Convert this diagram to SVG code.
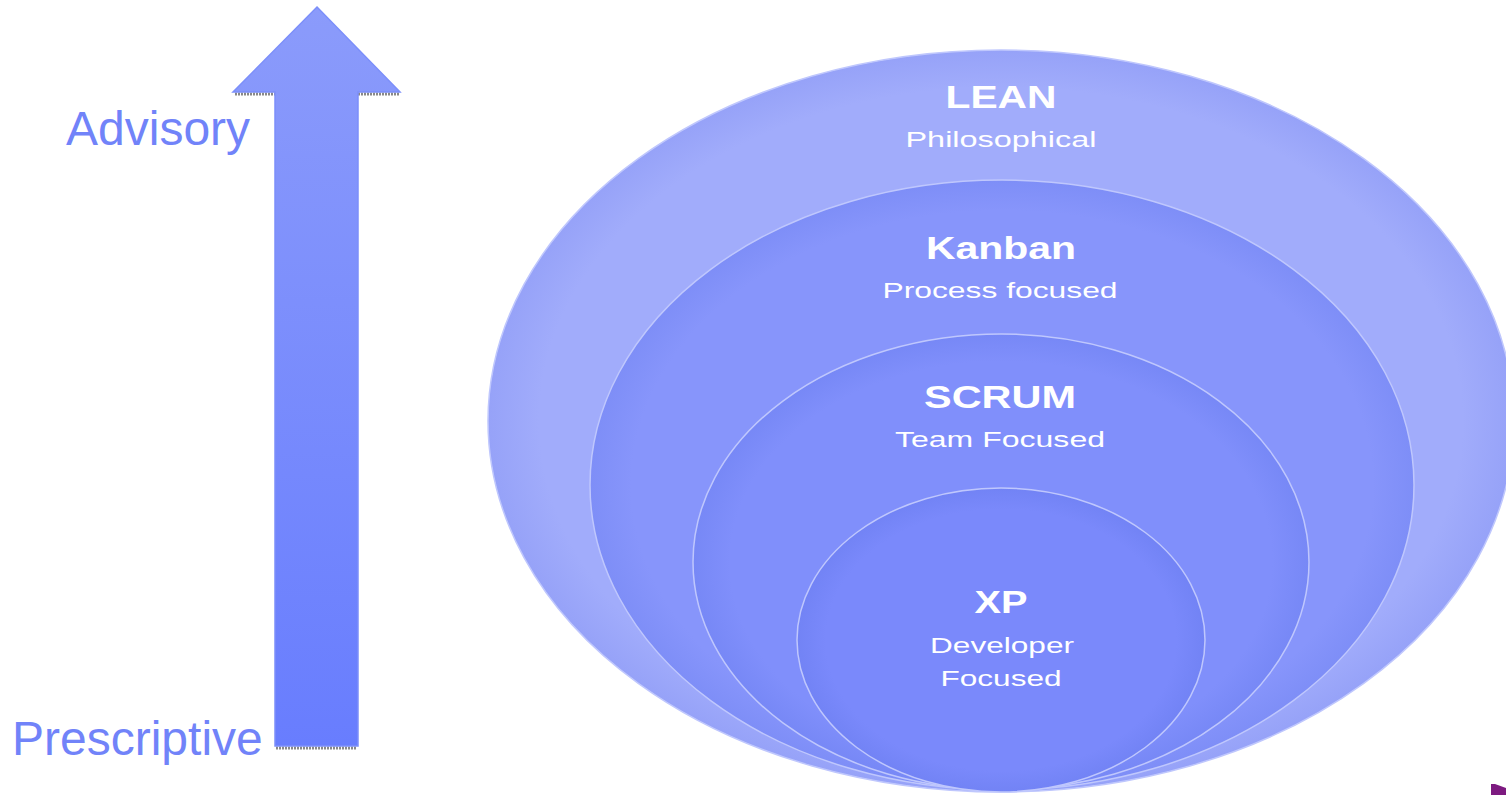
<svg xmlns="http://www.w3.org/2000/svg" width="1506" height="795" viewBox="0 0 1506 795">
<defs>
<linearGradient id="arrowGrad" x1="0" y1="0" x2="0" y2="1">
<stop offset="0" stop-color="#8b9bfb"/>
<stop offset="1" stop-color="#687dfe"/>
</linearGradient>
<radialGradient id="rimLean" cx="0.5" cy="0.5" r="0.5">
<stop offset="0.9" stop-color="#a1acfb"/>
<stop offset="1" stop-color="#96a2f8"/>
</radialGradient>
<radialGradient id="rimKanban" cx="0.5" cy="0.5" r="0.5">
<stop offset="0.9" stop-color="#8795fb"/>
<stop offset="1" stop-color="#7e8ef7"/>
</radialGradient>
<radialGradient id="rimScrum" cx="0.5" cy="0.5" r="0.5">
<stop offset="0.88" stop-color="#808ffb"/>
<stop offset="1" stop-color="#7788f6"/>
</radialGradient>
<radialGradient id="rimXp" cx="0.5" cy="0.5" r="0.5">
<stop offset="0.86" stop-color="#7a89fb"/>
<stop offset="1" stop-color="#7283f5"/>
</radialGradient>
</defs>
<style>
.side{font-family:"Liberation Sans",Arial,sans-serif;font-size:48px;fill:#7183f9}
.title{font-family:"Liberation Sans",Arial,sans-serif;font-weight:bold;font-size:32px;fill:#ffffff;text-anchor:middle}
.sub{font-family:"Liberation Sans",Arial,sans-serif;font-size:22px;fill:#ffffff;text-anchor:middle}
.ring{stroke:#bfc7fd;stroke-width:1.5}
.shadow{stroke:#888;stroke-width:3;stroke-dasharray:2 1}
</style>
<g id="arrow">
<line class="shadow" x1="235" y1="94" x2="275" y2="94"/>
<line class="shadow" x1="358" y1="94" x2="399" y2="94"/>
<line class="shadow" x1="276" y1="748" x2="357" y2="748"/>
<polygon points="317,7 400,92 358,92 358,746 275,746 275,92 233,92" fill="url(#arrowGrad)" stroke="#7c8ffa" stroke-width="1.5"/>
</g>
<g id="labels">
<text class="side" x="66" y="145">Advisory</text>
<text class="side" x="12" y="755">Prescriptive</text>
</g>
<g id="lean">
<ellipse cx="1001" cy="421" rx="513" ry="371" fill="url(#rimLean)" class="ring"/>
<text class="title" x="1001" y="108" textLength="111" lengthAdjust="spacingAndGlyphs">LEAN</text>
<text class="sub" x="1001" y="147" textLength="191" lengthAdjust="spacingAndGlyphs">Philosophical</text>
</g>
<g id="kanban">
<ellipse cx="1002" cy="485" rx="412" ry="305" fill="url(#rimKanban)" class="ring"/>
<text class="title" x="1001" y="259" textLength="150" lengthAdjust="spacingAndGlyphs">Kanban</text>
<text class="sub" x="1000" y="298" textLength="235" lengthAdjust="spacingAndGlyphs">Process focused</text>
</g>
<g id="scrum">
<ellipse cx="1001" cy="562" rx="308" ry="228" fill="url(#rimScrum)" class="ring"/>
<text class="title" x="1000" y="408" textLength="152" lengthAdjust="spacingAndGlyphs">SCRUM</text>
<text class="sub" x="1000" y="447" textLength="210" lengthAdjust="spacingAndGlyphs">Team Focused</text>
</g>
<g id="xp">
<ellipse cx="1001" cy="640" rx="204" ry="152" fill="url(#rimXp)" class="ring"/>
<text class="title" x="1001" y="613" textLength="53" lengthAdjust="spacingAndGlyphs">XP</text>
<text class="sub" x="1002" y="653" textLength="144" lengthAdjust="spacingAndGlyphs">Developer</text>
<text class="sub" x="1001" y="686" textLength="121" lengthAdjust="spacingAndGlyphs">Focused</text>
</g>
<g id="corner">
<polygon points="1491,784 1495,784 1506,788 1506,795 1491,795" fill="#7d1a80"/>
</g>
</svg>
